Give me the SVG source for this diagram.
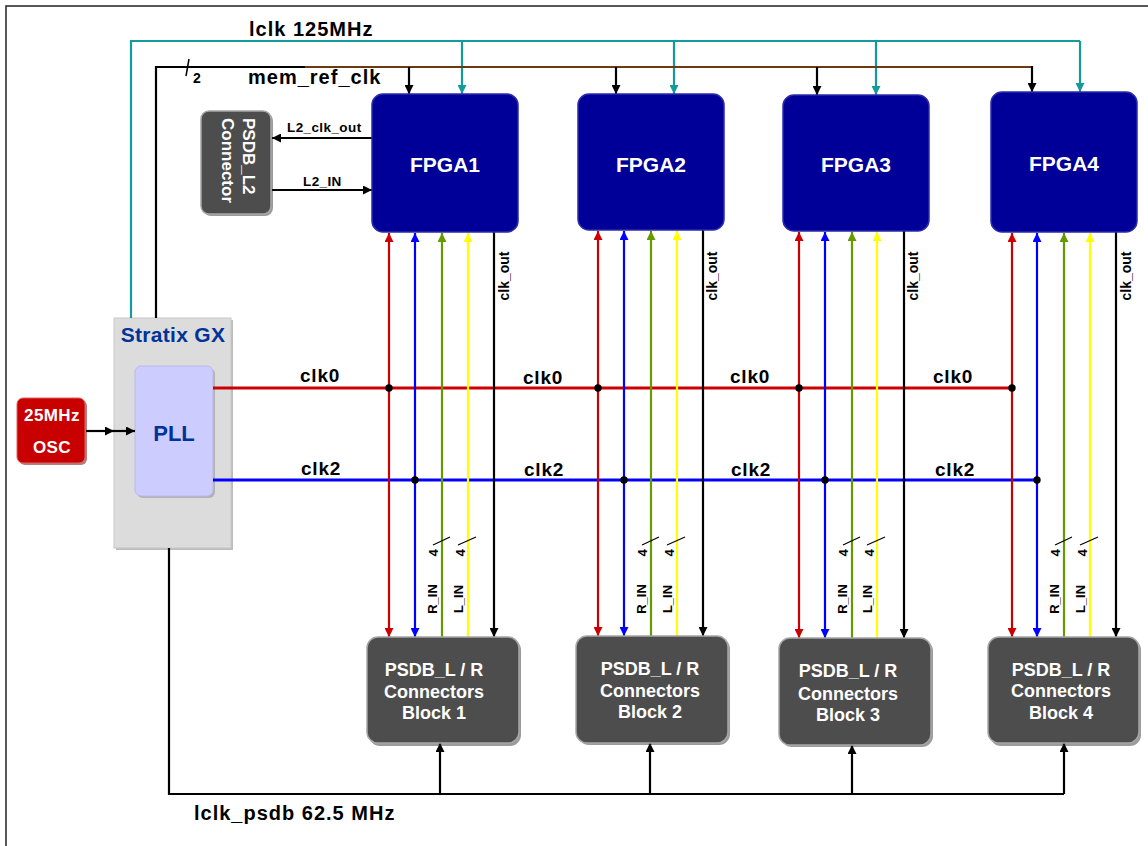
<svg xmlns="http://www.w3.org/2000/svg" width="1148" height="846" viewBox="0 0 1148 846">
<style>
text{font-family:"Liberation Sans",Arial,sans-serif;font-weight:bold}
.big{font-size:20px;letter-spacing:1px;fill:#000}
.clk{font-size:19px;letter-spacing:0.8px;fill:#000}
.fpga rect{fill:#000099;stroke:#2b2bab;stroke-width:1.5}
.fpga text{fill:#fff;font-size:21px;text-anchor:middle}
.blk .b{fill:#4d4d4d;stroke:#a6a6a6;stroke-width:1.5}
.sh{fill:#222;opacity:.45}
.blk text{fill:#fff;font-size:18px;text-anchor:middle}
.vl{font-size:13px;fill:#000;text-anchor:middle}
.co{font-size:14px;fill:#000;text-anchor:middle}
.sm{font-size:13.5px;fill:#000;letter-spacing:0.4px}
.ln{fill:none;stroke-width:2.2}
.red{stroke:#cc0000}.blue{stroke:#0000ff}.grn{stroke:#669900}.yel{stroke:#ffff00}.blk2{stroke:#000}.teal{stroke:#139a9a}
.h{fill:none;stroke-width:2.8}
.dot{fill:#000}
</style>
<defs>
<marker id="mR" viewBox="0 0 10 10" refX="10" refY="5" markerWidth="11" markerHeight="9" markerUnits="userSpaceOnUse" orient="auto-start-reverse"><path d="M0,0L10,5L0,10z" fill="#cc0000"/></marker>
<marker id="mB" viewBox="0 0 10 10" refX="10" refY="5" markerWidth="11" markerHeight="9" markerUnits="userSpaceOnUse" orient="auto-start-reverse"><path d="M0,0L10,5L0,10z" fill="#0000ff"/></marker>
<marker id="mG" viewBox="0 0 10 10" refX="10" refY="5" markerWidth="11" markerHeight="9" markerUnits="userSpaceOnUse" orient="auto-start-reverse"><path d="M0,0L10,5L0,10z" fill="#669900"/></marker>
<marker id="mY" viewBox="0 0 10 10" refX="10" refY="5" markerWidth="11" markerHeight="9" markerUnits="userSpaceOnUse" orient="auto-start-reverse"><path d="M0,0L10,5L0,10z" fill="#ffff00"/></marker>
<marker id="mK" viewBox="0 0 10 10" refX="10" refY="5" markerWidth="11" markerHeight="9" markerUnits="userSpaceOnUse" orient="auto-start-reverse"><path d="M0,0L10,5L0,10z" fill="#000"/></marker>
<marker id="mT" viewBox="0 0 10 10" refX="10" refY="5" markerWidth="11" markerHeight="9" markerUnits="userSpaceOnUse" orient="auto-start-reverse"><path d="M0,0L10,5L0,10z" fill="#139a9a"/></marker>
</defs>
<rect width="1148" height="846" fill="#fff"/>
<path d="M6,846V6H1148" fill="none" stroke="#222" stroke-width="1.5"/>

<g id="stratix">
  <rect x="116" y="320" width="117" height="230" fill="#bbb"/>
  <rect x="114" y="318" width="117" height="230" fill="#dcdcdc" stroke="#c8c8c8"/>
  <text x="173" y="342" font-size="21" fill="#003399" text-anchor="middle" letter-spacing="0.3">Stratix GX</text>
</g>
<g id="pll">
  <rect x="137" y="368" width="78" height="130" rx="6" fill="#888" opacity=".5"/>
  <rect x="135" y="366" width="78" height="130" rx="6" fill="#ccccff" stroke="#b8b8ee"/>
  <text x="174" y="441" font-size="22" fill="#003399" text-anchor="middle">PLL</text>
</g>
<g id="osc">
  <rect x="19" y="400" width="68" height="65" rx="6" fill="#660000" opacity=".5"/>
  <rect x="17" y="398" width="68" height="65" rx="6" fill="#c80000" stroke="#e06060"/>
  <text x="52" y="421" font-size="17" fill="#fff" text-anchor="middle" letter-spacing="0.4">25MHz</text>
  <text x="52" y="453" font-size="17" fill="#fff" text-anchor="middle" letter-spacing="0.4">OSC</text>
</g>

<g id="connectors">
  <path class="ln teal" d="M131,318V41H1080"/>
  <path class="ln teal" d="M462,41V94" marker-end="url(#mT)"/>
  <path class="ln teal" d="M674,41V94" marker-end="url(#mT)"/>
  <path class="ln teal" d="M876,41V95" marker-end="url(#mT)"/>
  <path class="ln teal" d="M1080,41V92" marker-end="url(#mT)"/>
  <path class="ln blk2" d="M156,318V67H306"/>
  <path class="ln" stroke="#6b3a14" d="M305,67H1032"/>
  <path class="ln blk2" d="M409,67V94" marker-end="url(#mK)"/>
  <path class="ln blk2" d="M616,67V94" marker-end="url(#mK)"/>
  <path class="ln blk2" d="M817,67V95" marker-end="url(#mK)"/>
  <path class="ln blk2" d="M1032,66V92" marker-end="url(#mK)"/>
  <path d="M189,59L186,76" stroke="#000" stroke-width="1.5"/>
  <path class="ln blk2" d="M372,138H272" marker-end="url(#mK)"/>
  <path class="ln blk2" d="M272,190H372" marker-end="url(#mK)"/>
  <path class="ln blk2" d="M86,431H114" marker-end="url(#mK)"/>
  <path class="ln blk2" d="M113,431H135" marker-end="url(#mK)"/>
  <path class="h red" d="M213,388H1012"/>
  <path class="h blue" d="M213,480H1037"/>
  <path class="ln red" d="M389,233V637" marker-start="url(#mR)" marker-end="url(#mR)"/>
  <path class="ln blue" d="M415,233V637" marker-start="url(#mB)" marker-end="url(#mB)"/>
  <path class="ln grn" d="M442,233V637" marker-start="url(#mG)"/>
  <path class="ln yel" d="M468,233V637" marker-start="url(#mY)"/>
  <path class="ln blk2" d="M494,232V637" marker-end="url(#mK)"/>
  <path class="ln red" d="M598,231V636" marker-start="url(#mR)" marker-end="url(#mR)"/>
  <path class="ln blue" d="M624,231V636" marker-start="url(#mB)" marker-end="url(#mB)"/>
  <path class="ln grn" d="M651,231V636" marker-start="url(#mG)"/>
  <path class="ln yel" d="M677,231V636" marker-start="url(#mY)"/>
  <path class="ln blk2" d="M703,230V636" marker-end="url(#mK)"/>
  <path class="ln red" d="M799,232V638" marker-start="url(#mR)" marker-end="url(#mR)"/>
  <path class="ln blue" d="M825,232V638" marker-start="url(#mB)" marker-end="url(#mB)"/>
  <path class="ln grn" d="M852,232V638" marker-start="url(#mG)"/>
  <path class="ln yel" d="M877,232V638" marker-start="url(#mY)"/>
  <path class="ln blk2" d="M904,231V638" marker-end="url(#mK)"/>
  <path class="ln red" d="M1012,233V637" marker-start="url(#mR)" marker-end="url(#mR)"/>
  <path class="ln blue" d="M1037,233V637" marker-start="url(#mB)" marker-end="url(#mB)"/>
  <path class="ln grn" d="M1064,233V637" marker-start="url(#mG)"/>
  <path class="ln yel" d="M1090,233V637" marker-start="url(#mY)"/>
  <path class="ln blk2" d="M1116,232V637" marker-end="url(#mK)"/>
  <circle class="dot" cx="389" cy="388" r="3.7"/><circle class="dot" cx="598" cy="388" r="3.7"/>
  <circle class="dot" cx="799" cy="388" r="3.7"/><circle class="dot" cx="1012" cy="388" r="3.7"/>
  <circle class="dot" cx="415" cy="480" r="3.7"/><circle class="dot" cx="624" cy="480" r="3.7"/>
  <circle class="dot" cx="825" cy="480" r="3.7"/><circle class="dot" cx="1037" cy="480" r="3.7"/>
  <g stroke="#000" stroke-width="1.2">
    <path d="M433,545L450,537M458,545L476,537"/>
    <path d="M642,545L659,537M667,545L685,537"/>
    <path d="M843,545L860,537M867,545L885,537"/>
    <path d="M1055,545L1072,537M1080,545L1098,537"/>
  </g>
  <path class="ln blk2" d="M169,548V794H1064"/>
  <path class="ln blk2" d="M440,794V743" marker-end="url(#mK)"/>
  <path class="ln blk2" d="M650,794V743" marker-end="url(#mK)"/>
  <path class="ln blk2" d="M852,794V745" marker-end="url(#mK)"/>
  <path class="ln blk2" d="M1064,794V743" marker-end="url(#mK)"/>
</g>

<g id="labels">
  <text class="big" x="249" y="36">lclk 125MHz</text>
  <text class="big" x="248" y="84">mem_ref_clk</text>
  <text x="193" y="83" font-size="14">2</text>
  <text class="sm" x="287" y="132">L2_clk_out</text>
  <text class="sm" x="303" y="186">L2_IN</text>
  <text class="clk" x="300" y="382">clk0</text>
  <text class="clk" x="523" y="384">clk0</text>
  <text class="clk" x="730" y="383">clk0</text>
  <text class="clk" x="933" y="383">clk0</text>
  <text class="clk" x="301" y="475">clk2</text>
  <text class="clk" x="524" y="476">clk2</text>
  <text class="clk" x="731" y="476">clk2</text>
  <text class="clk" x="935" y="476">clk2</text>
  <text class="co" transform="translate(509,276) rotate(-90)">clk_out</text>
  <text class="co" transform="translate(717,276) rotate(-90)">clk_out</text>
  <text class="co" transform="translate(918,276) rotate(-90)">clk_out</text>
  <text class="co" transform="translate(1131,276) rotate(-90)">clk_out</text>
  <text class="vl" transform="translate(437,599) rotate(-90)">R_IN</text>
  <text class="vl" transform="translate(463,599) rotate(-90)">L_IN</text>
  <text class="vl" transform="translate(438,553) rotate(-90)">4</text>
  <text class="vl" transform="translate(465,553) rotate(-90)">4</text>
  <text class="vl" transform="translate(646,599) rotate(-90)">R_IN</text>
  <text class="vl" transform="translate(672,599) rotate(-90)">L_IN</text>
  <text class="vl" transform="translate(647,553) rotate(-90)">4</text>
  <text class="vl" transform="translate(674,553) rotate(-90)">4</text>
  <text class="vl" transform="translate(847,599) rotate(-90)">R_IN</text>
  <text class="vl" transform="translate(872,599) rotate(-90)">L_IN</text>
  <text class="vl" transform="translate(848,553) rotate(-90)">4</text>
  <text class="vl" transform="translate(874,553) rotate(-90)">4</text>
  <text class="vl" transform="translate(1059,599) rotate(-90)">R_IN</text>
  <text class="vl" transform="translate(1085,599) rotate(-90)">L_IN</text>
  <text class="vl" transform="translate(1060,553) rotate(-90)">4</text>
  <text class="vl" transform="translate(1087,553) rotate(-90)">4</text>
  <text class="big" x="194" y="820">lclk_psdb 62.5 MHz</text>
</g>

<g id="psdb_l2">
  <rect x="203" y="113" width="70" height="103" rx="8" class="sh"/>
  <rect x="201" y="111" width="70" height="103" rx="8" fill="#4d4d4d" stroke="#a6a6a6" stroke-width="1.5"/>
  <text transform="translate(243,118) rotate(90)" font-size="17" fill="#fff">PSDB_L2</text>
  <text transform="translate(222,118) rotate(90)" font-size="17" fill="#fff">Connector</text>
</g>

<g id="fpga1" class="fpga"><rect x="372" y="94" width="146" height="138" rx="11"/><text x="445" y="172">FPGA1</text></g>
<g id="fpga2" class="fpga"><rect x="578" y="94" width="146" height="136" rx="11"/><text x="651" y="172">FPGA2</text></g>
<g id="fpga3" class="fpga"><rect x="783" y="95" width="146" height="136" rx="11"/><text x="856" y="172">FPGA3</text></g>
<g id="fpga4" class="fpga"><rect x="991" y="92" width="146" height="140" rx="11"/><text x="1064" y="171">FPGA4</text></g>

<g id="block1" class="blk"><rect class="sh" x="369" y="639" width="152" height="107" rx="11"/><rect class="b" x="367" y="637" width="152" height="106" rx="11"/>
  <text x="434" y="676">PSDB_L / R</text><text x="434" y="698">Connectors</text><text x="434" y="719">Block 1</text></g>
<g id="block2" class="blk"><rect class="sh" x="578" y="638" width="152" height="107" rx="11"/><rect class="b" x="576" y="636" width="152" height="107" rx="11"/>
  <text x="650" y="675">PSDB_L / R</text><text x="650" y="697">Connectors</text><text x="650" y="718">Block 2</text></g>
<g id="block3" class="blk"><rect class="sh" x="781" y="640" width="152" height="107" rx="11"/><rect class="b" x="779" y="638" width="152" height="107" rx="11"/>
  <text x="848" y="677">PSDB_L / R</text><text x="848" y="700">Connectors</text><text x="848" y="721">Block 3</text></g>
<g id="block4" class="blk"><rect class="sh" x="990" y="639" width="151" height="107" rx="11"/><rect class="b" x="988" y="637" width="151" height="106" rx="11"/>
  <text x="1061" y="676">PSDB_L / R</text><text x="1061" y="697">Connectors</text><text x="1061" y="719">Block 4</text></g>
</svg>
